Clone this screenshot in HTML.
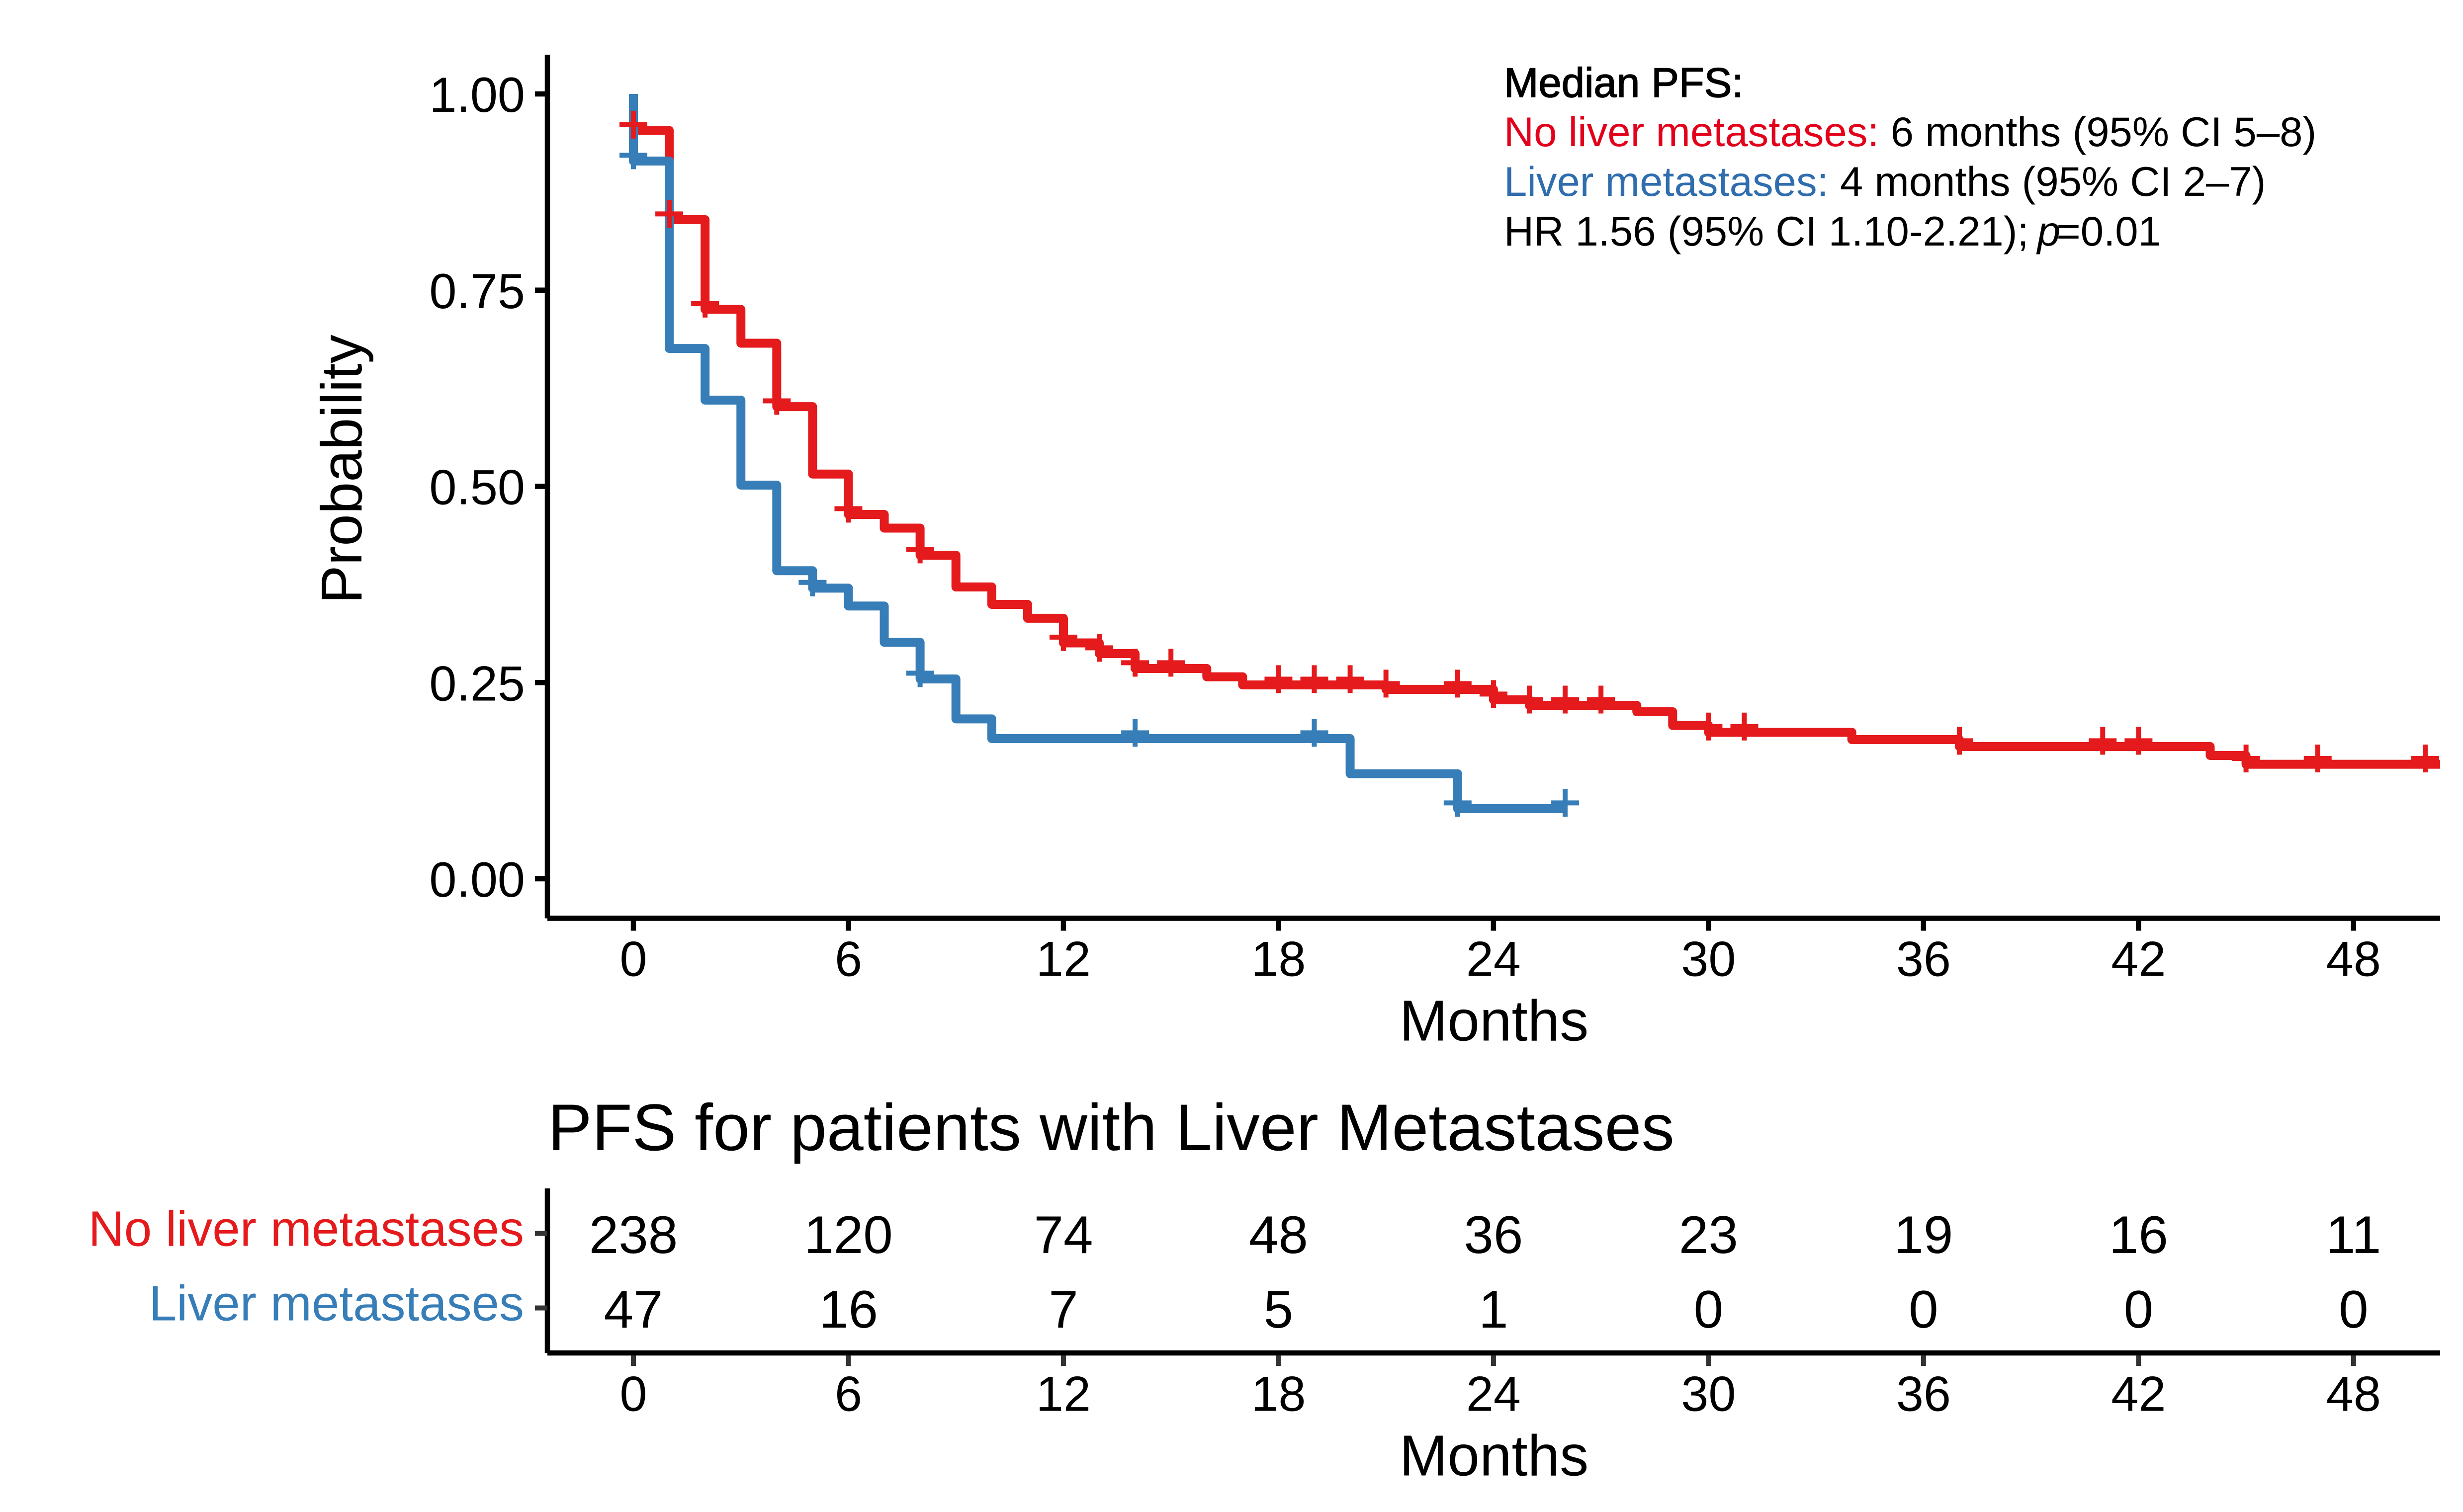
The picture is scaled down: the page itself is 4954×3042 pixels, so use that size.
<!DOCTYPE html>
<html lang="en">
<head>
<meta charset="utf-8">
<title>PFS for patients with Liver Metastases</title>
<style>
html,body{margin:0;padding:0;background:#fff;width:4954px;height:3042px;overflow:hidden}
svg{display:block}
text{font-family:"Liberation Sans",Arial,sans-serif;fill:#000}
</style>
</head>
<body>
<svg id="chart" xmlns="http://www.w3.org/2000/svg" width="4954" height="3042" viewBox="0 0 4954 3042">
<rect x="0" y="0" width="4954" height="3042" fill="#fff"/>
<defs><clipPath id="plot-clip"><rect x="1101" y="100" width="3807" height="1742"/></clipPath></defs>
<g id="curves" clip-path="url(#plot-clip)"></g>
<g id="axes"></g>
<text transform="translate(727 944) rotate(-90)" text-anchor="middle" font-size="116">Probability</text>
<text x="3005" y="2093.5" text-anchor="middle" font-size="116">Months</text>
<g font-size="83.3">
<text x="3025" y="195" style="stroke:#000;stroke-width:1.6px">Median PFS:</text>
<text x="3025" y="294"><tspan style="fill:#E2001A">No liver metastases:</tspan> 6 months (95% CI 5–8)</text>
<text x="3025" y="394"><tspan style="fill:#2F6DAE">Liver metastases:</tspan> 4 months (95% CI 2–7)</text>
<text x="3025" y="494">HR 1.56 (95% CI 1.10-2.21); <tspan font-style="italic" dx="-6">p</tspan><tspan dx="-8">=0.01</tspan></text>
</g>
<text x="1102" y="2314" font-size="132.8">PFS for patients with Liver Metastases</text>
<g id="table"></g>
<text x="3005" y="2968.5" text-anchor="middle" font-size="116">Months</text>
</svg>
<script>
// Axis ticks
const xTicks = [0, 6, 12, 18, 24, 30, 36, 42, 48];
const yTicks = [0, 0.25, 0.5, 0.75, 1];
const yTickLabels = ["0.00", "0.25", "0.50", "0.75", "1.00"];

// No liver metastases: step times (months) and survival from that time on
const redTimes = [0, 1, 2, 3, 4, 5, 6, 7, 8, 9, 10, 11, 12, 13, 14, 16, 17, 21, 24, 25, 28, 29, 30, 34, 37, 44, 45];
const redSurv = [0.9535, 0.8398, 0.7255, 0.6824, 0.6016, 0.5157, 0.4642, 0.4468, 0.4123, 0.3718, 0.3496, 0.3319, 0.3005, 0.2869, 0.2679, 0.2574, 0.247, 0.2413, 0.228, 0.221, 0.2128, 0.1953, 0.1866, 0.1773, 0.1685, 0.1571, 0.1459];
const redEnd = 52;
const redCensor = [0, 1, 2, 4, 6, 8, 12, 13, 14, 15, 18, 19, 20, 21, 23, 24, 25, 26, 27, 30, 31, 37, 41, 42, 45, 47, 50];

// Liver metastases
const blueTimes = [0, 1, 2, 3, 4, 5, 6, 7, 8, 9, 10, 20, 23];
const blueSurv = [0.9145, 0.6757, 0.6099, 0.5016, 0.3925, 0.3703, 0.3475, 0.3013, 0.2546, 0.2037, 0.1786, 0.1338, 0.0893];
const blueEnd = 26;
const blueCensor = [0, 5, 8, 14, 19, 23, 26];

// Numbers at risk
const riskGroups = ["No liver metastases", "Liver metastases"];
const riskNoLiver = [238, 120, 74, 48, 36, 23, 19, 16, 11];
const riskLiver = [47, 16, 7, 5, 1, 0, 0, 0, 0];

const RED = "#E41A1C";
const BLUE = "#377EB8";
const NS = "http://www.w3.org/2000/svg";
const xScale = function (t) { return 1274 + t * 72.08; };
const yScale = function (s) { return 1768 - s * 1579; };

function mk(tag, parent) {
  const el = document.createElementNS(NS, tag);
  parent.appendChild(el);
  return el;
}
function setLine(el, x1, y1, x2, y2, color, w) {
  el.setAttribute("x1", x1);
  el.setAttribute("y1", y1);
  el.setAttribute("x2", x2);
  el.setAttribute("y2", y2);
  el.setAttribute("stroke", color);
  el.setAttribute("stroke-width", w);
}
function setText(el, x, y, anchor, size, str, color) {
  el.setAttribute("x", x);
  el.setAttribute("y", y);
  el.setAttribute("text-anchor", anchor);
  el.setAttribute("font-size", size);
  if (color) el.style.fill = color;
  el.textContent = str;
}
function stepPath(times, surv, end) {
  let d = "M" + xScale(0) + " " + yScale(1);
  for (let i = 0; i < times.length; i++) {
    d += "V" + yScale(surv[i]);
    const next = i + 1 < times.length ? times[i + 1] : end;
    d += "H" + xScale(next);
  }
  return d;
}
function survAt(times, surv, t) {
  let s = 1;
  for (let i = 0; i < times.length; i++) { if (times[i] <= t) s = surv[i]; }
  return s;
}
function censorPath(times, surv, marks) {
  let d = "";
  for (let i = 0; i < marks.length; i++) {
    const x = xScale(marks[i]);
    const y = yScale(survAt(times, surv, marks[i])) - 11.6;
    d += "M" + (x - 28) + " " + y + "H" + (x + 28) + "M" + x + " " + (y - 28) + "V" + (y + 28);
  }
  return d;
}

const curves = document.getElementById("curves");

const redLine = mk("path", curves);


redLine.setAttribute("d", stepPath(redTimes, redSurv, redEnd));
redLine.setAttribute("fill", "none");
redLine.setAttribute("stroke", RED);
redLine.setAttribute("stroke-width", "18");
redLine.setAttribute("stroke-linejoin", "round");

const blueLine = mk("path", curves);


blueLine.setAttribute("d", stepPath(blueTimes, blueSurv, blueEnd));
blueLine.setAttribute("fill", "none");
blueLine.setAttribute("stroke", BLUE);
blueLine.setAttribute("stroke-width", "18");
blueLine.setAttribute("stroke-linejoin", "round");

const redMarks = mk("path", curves);


redMarks.setAttribute("d", censorPath(redTimes, redSurv, redCensor));
redMarks.setAttribute("fill", "none");
redMarks.setAttribute("stroke", RED);
redMarks.setAttribute("stroke-width", "10");

const blueMarks = mk("path", curves);


blueMarks.setAttribute("d", censorPath(blueTimes, blueSurv, blueCensor));
blueMarks.setAttribute("fill", "none");
blueMarks.setAttribute("stroke", BLUE);
blueMarks.setAttribute("stroke-width", "10");

// Main axes
const axes = document.getElementById("axes");
const yAxisLine = mk("line", axes);


setLine(yAxisLine, 1101, 110, 1101, 1847.5, "#000", 10.5);
const xAxisLine = mk("line", axes);


setLine(xAxisLine, 1101, 1847.5, 4908, 1847.5, "#000", 10.5);

yTicks.forEach(function (v, i) {
  const tick = mk("line", axes);
  
  
  setLine(tick, 1076, yScale(v), 1101, yScale(v), "#000", 10.5);
  const label = mk("text", axes);
  
  
  setText(label, 1056, yScale(v) + 36, "end", 99, yTickLabels[i]);
});
xTicks.forEach(function (t) {
  const tick = mk("line", axes);
  
  
  setLine(tick, xScale(t), 1847.5, xScale(t), 1872.5, "#000", 10.5);
  const label = mk("text", axes);
  
  
  setText(label, xScale(t), 1963.5, "middle", 99, String(t));
});

// Risk table
const table = document.getElementById("table");
const tableYLine = mk("line", table);


setLine(tableYLine, 1101, 2391, 1101, 2722, "#000", 10.5);
const tableXLine = mk("line", table);


setLine(tableXLine, 1101, 2722, 4908, 2722, "#000", 10.5);

const rowY = [2481.5, 2631.5];
const rowColor = [RED, BLUE];
const rowCounts = [riskNoLiver, riskLiver];
riskGroups.forEach(function (g, r) {
  const tick = mk("line", table);
  
  
  setLine(tick, 1076, rowY[r], 1101, rowY[r], "#333", 10);
  const label = mk("text", table);
  
  
  setText(label, 1054, rowY[r] + 25, "end", 99.8, g, rowColor[r]);
  rowCounts[r].forEach(function (n, i) {
    const cell = mk("text", table);
    
    
    setText(cell, xScale(xTicks[i]), rowY[r] + 39.5, "middle", 107, String(n));
  });
});
xTicks.forEach(function (t) {
  const tick = mk("line", table);
  
  
  setLine(tick, xScale(t), 2727, xScale(t), 2748, "#333", 10);
  const label = mk("text", table);
  
  
  setText(label, xScale(t), 2838.5, "middle", 99, String(t));
});
</script>
</body>
</html>
